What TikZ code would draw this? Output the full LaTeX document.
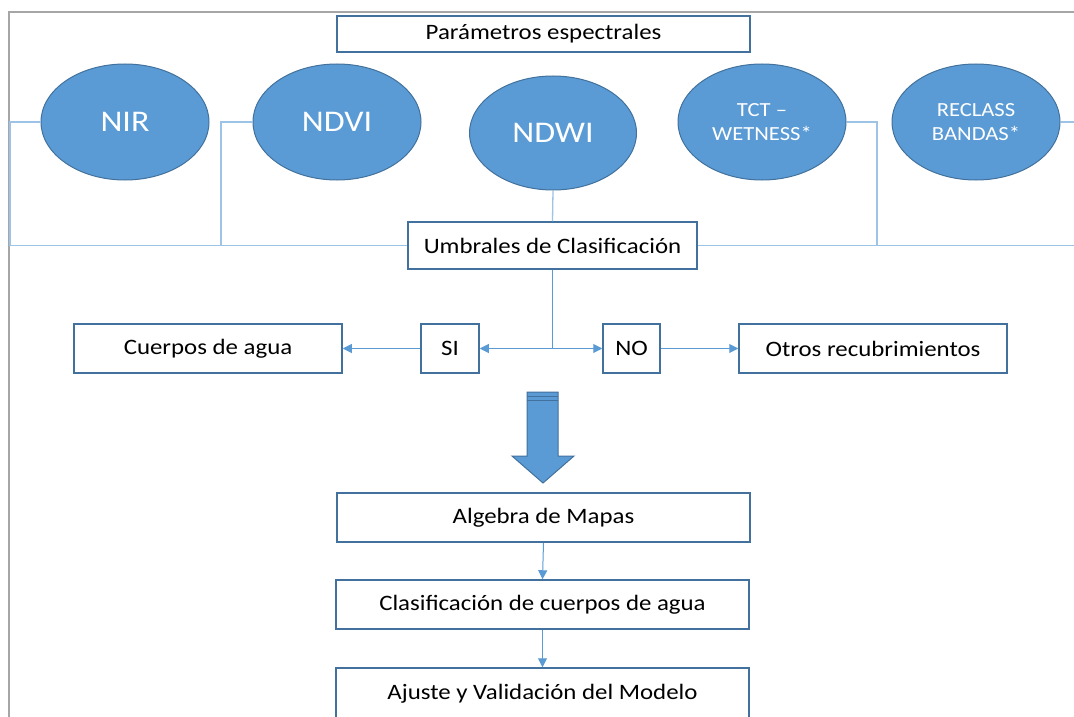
\documentclass[tikz,border=0pt]{standalone}
\usepackage{fontspec}
\setmainfont{Carlito}[FakeStretch=1.13]
\usetikzlibrary{shapes.geometric,arrows.meta}
\definecolor{fillblue}{HTML}{5B9BD5}
\definecolor{edgeblue}{HTML}{41719C}
\definecolor{linkblue}{HTML}{9DC3E6}
\definecolor{arrowblue}{HTML}{5B9BD5}
\definecolor{framegray}{HTML}{A6A6A6}
\begin{document}
\begin{tikzpicture}[x=1pt,y=-1pt,
  oval/.style={ellipse, fill=fillblue, draw=edgeblue, line width=1pt, minimum width=168pt, minimum height=116pt, inner sep=0pt, text=white, font=\fontsize{30}{32}\selectfont},
  smalloval/.style={oval, font=\fontsize{20}{24}\selectfont, align=center},
  box/.style={rectangle, draw=edgeblue, line width=1.5pt, fill=white, inner sep=0pt, font=\fontsize{22}{24}\selectfont},
  link/.style={draw=linkblue, line width=1.3pt},
  flow/.style={draw=arrowblue, line width=1pt},
  arr/.style={flow, -{Triangle[length=9pt,width=9pt]}},
]
\clip (0,0) rectangle (1074,717);
\fill[white] (0,0) rectangle (1074,717);
% frame
\draw[framegray, line width=2pt] (1074,12) -- (9,12) -- (9,717);

% nodes
\node[box, minimum width=413pt, minimum height=36pt] (param) at (543.5,34) {Parámetros espectrales};
\node[oval] (nir) at (125,122) {NIR};
\node[oval] (ndvi) at (337,122) {NDVI};
\node[oval, minimum width=167pt, minimum height=114pt] (ndwi) at (553,133) {NDWI};
\node[smalloval] (tct) at (762,122) {TCT –\\WETNESS*};
\node[smalloval] (rec) at (976,122) {RECLASS\\BANDAS*};
\node[box, minimum width=289pt, minimum height=47pt] (umb) at (552.5,245.5) {Umbrales de Clasificación};
\node[box, minimum width=58pt, minimum height=49pt] (si) at (450,348.5) {SI};
\node[box, minimum width=268pt, minimum height=49pt] (cuerpos) at (208,348.5) {Cuerpos de agua};
\node[box, minimum width=57pt, minimum height=49pt] (no) at (631.5,348.5) {NO};
\node[box, minimum width=268pt, minimum height=49pt] (otros) at (873,348.5) {Otros recubrimientos};
\node[box, minimum width=413pt, minimum height=49pt] (alg) at (543.5,517.5) {Algebra de Mapas};
\node[box, minimum width=413pt, minimum height=49pt] (clas) at (542.5,604.5) {Clasificación de cuerpos de agua};
\node[box, minimum width=413pt, minimum height=52pt] (aju) at (542.5,694) {Ajuste y Validación del Modelo};

% junction coordinates
\coordinate (c1) at (10,245.5);
\coordinate (c2) at (221,245.5);
\coordinate (c3) at (877,245.5);
\coordinate (c4) at (1074,245.5);
\coordinate (c5) at (1074,122);
\coordinate (j) at (552.5,348.5);

% connectors
\draw[link] (nir.west) -| (c1) -- (umb.west);
\draw[link] (ndvi.west) -| (c2);
\draw[link] (ndwi.south) -- (umb.north);
\draw[link] (tct.east) -| (c3) -- (umb.east);
\draw[link] (umb.east) -- (c4);
\draw[link] (rec.east) -- (c5);

\draw[flow] (umb.south) -- (j);
\draw[arr] (j) -- (si.east);
\draw[arr] (j) -- (no.west);
\draw[arr] (si.west) -- (cuerpos.east);
\draw[arr] (no.east) -- (otros.west);
\draw[arr] (alg.south) -- (clas.north);
\draw[arr] (clas.south) -- (aju.north);

% big arrow
\draw[fill=fillblue, draw=edgeblue, line width=1pt] (527,392) -- (558,392) -- (558,456) -- (574,456) -- (543,483) -- (512,456) -- (527,456) -- cycle;
\draw[edgeblue, line width=0.8pt] (527,396) -- (558,396);
\draw[edgeblue, line width=0.8pt] (527,400) -- (558,400);
\end{tikzpicture}
\end{document}
